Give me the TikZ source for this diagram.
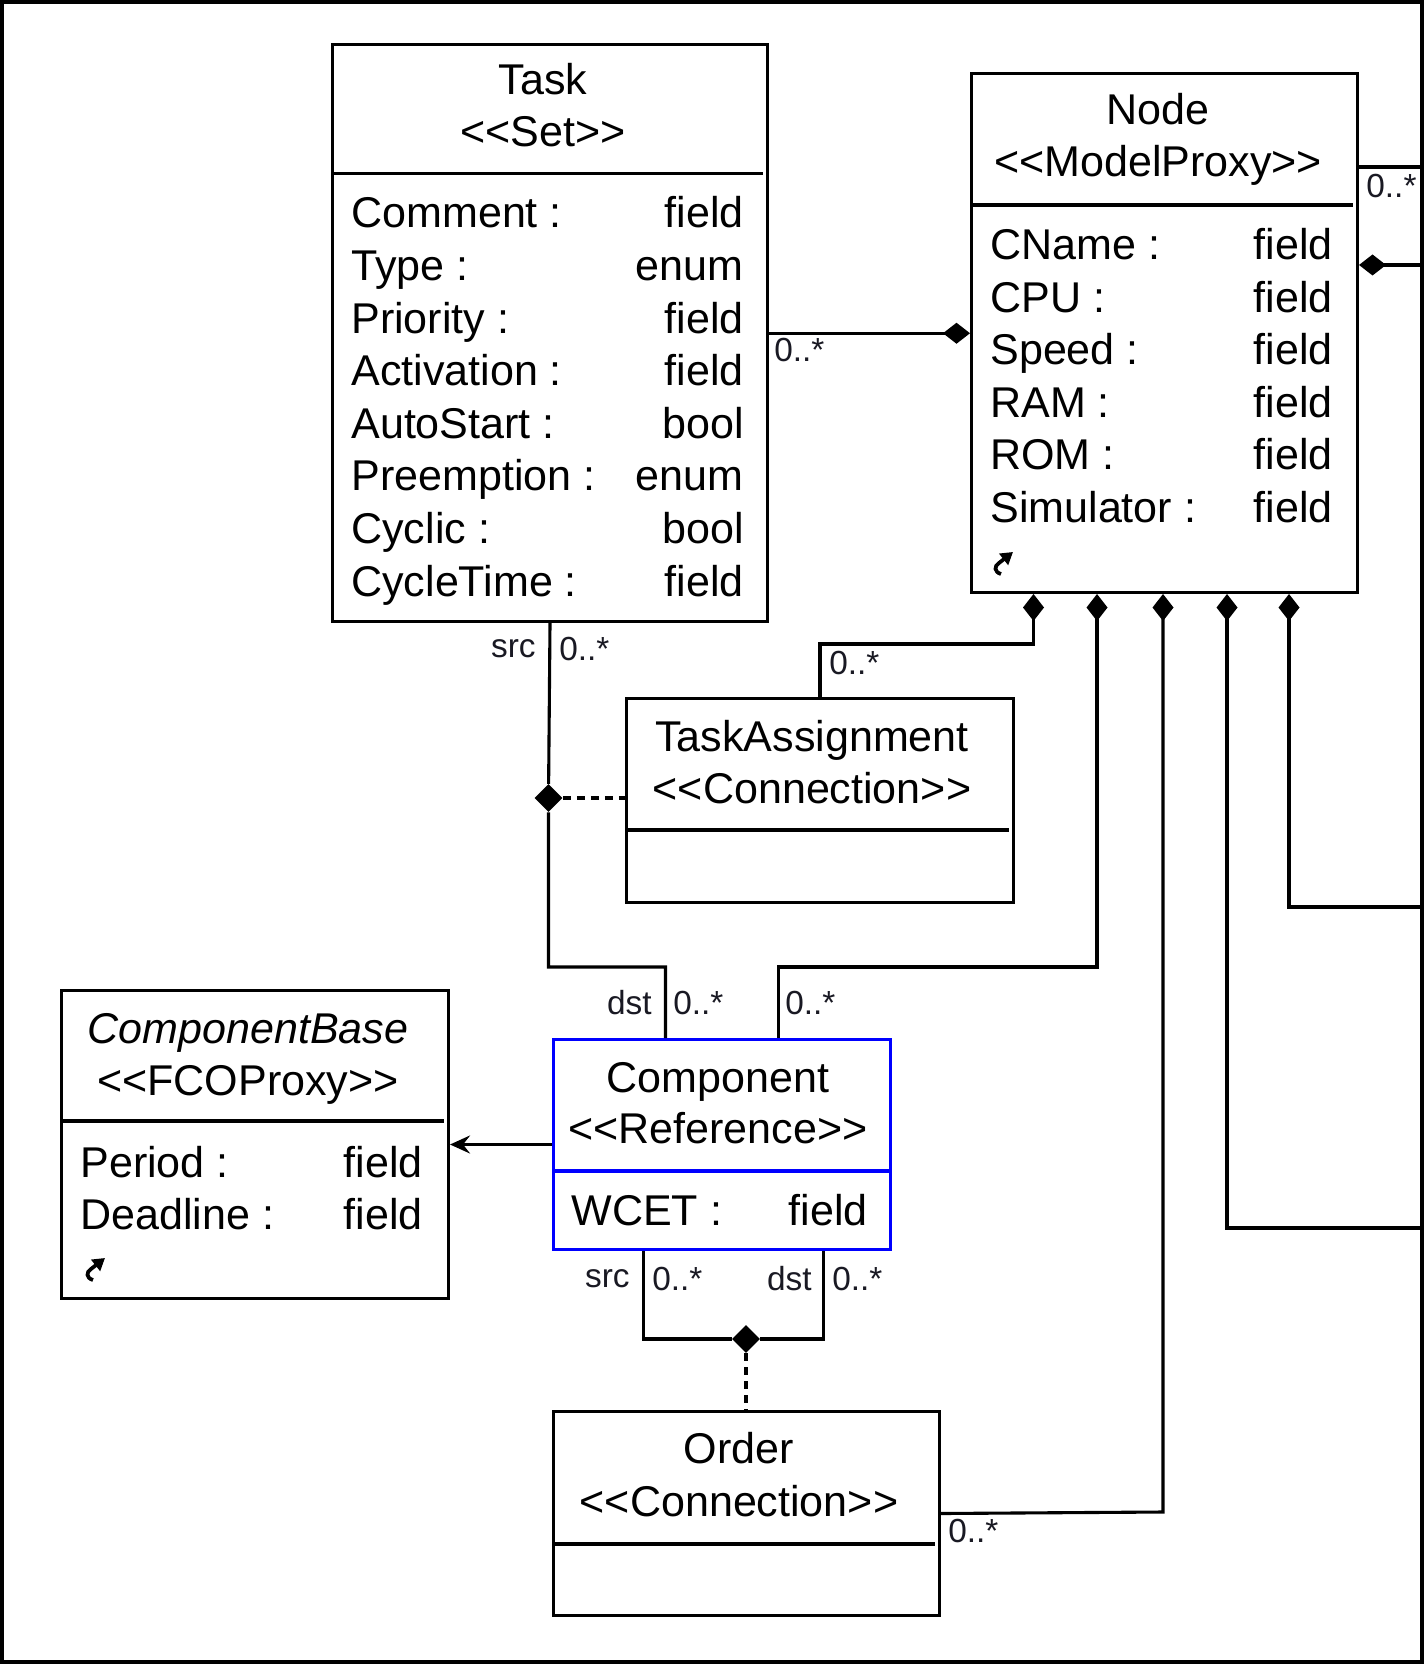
\documentclass[tikz,border=0pt]{standalone}
\usepackage{fontspec}
\newfontfamily\umlfont{Liberation Sans}
\usetikzlibrary{arrows.meta,positioning,shapes.geometric,calc}
\definecolor{ink}{RGB}{25,25,35}
\definecolor{refblue}{RGB}{0,0,255}
\tikzset{
  >={Stealth[length=4mm,width=3.6mm,inset=1.4mm]},
  cls/.style={draw=#1,line width=0.6mm,anchor=north west,inner sep=0pt},
  cls/.default=black,
  hd/.style={font=\umlfont\fontsize{24.5}{30}\selectfont,anchor=base,inner sep=0pt},
  attr/.style={font=\umlfont\fontsize{24.5}{30}\selectfont,inner sep=0pt},
  mult/.style={font=\umlfont\fontsize{19}{22}\selectfont,inner sep=0pt,text=ink},
  wire/.style={line width=0.62mm},
  owns/.style={wire,-{Diamond[length=5.4mm,width=4.2mm]}},
  gen/.style={wire,->},
  link/.style={wire,dash pattern=on 1.6mm off 1.2mm},
  junction/.style={diamond,fill=black,inner sep=0pt,minimum width=5.6mm,minimum height=5.6mm},
  % little shortcut arrow shown in proxy boxes
  pics/shortcut/.style={code={
    \draw[line width=0.75mm,-{Triangle[length=2.4mm,width=2.8mm]}] (-2,12) .. controls (-9,10) and (-9,4) .. (-4,1) -- (10,-10);
  }},
}

\begin{document}
\begin{tikzpicture}[x=0.2mm,y=-0.2mm]
  \useasboundingbox (0,0) rectangle (1425,1664);
  \draw[line width=0.7mm] (2,2) rectangle (1422,1662);

  % classes
  \node[cls,minimum width=87mm,minimum height=115.3mm] (task) at (331,43.5) {};
  \node[cls,minimum width=77.2mm,minimum height=103.8mm] (node) at (970,72) {};
  \node[cls,minimum width=77.4mm,minimum height=40.8mm] (ta) at (625,697) {};
  \node[cls=refblue,minimum width=67.4mm,minimum height=42mm] (component) at (552,1038) {};
  \node[cls,minimum width=77.4mm,minimum height=61.6mm] (base) at (60,989) {};
  \node[cls,minimum width=77.2mm,minimum height=40.8mm] (order) at (552,1410) {};

  \foreach \b/\d in {task/130,node/133,ta/133,base/132,order/134}
    \draw[wire] ($(\b.north west)+(0,\d)$) -- ($(\b.north east)+(-6,\d)$);
  \draw[wire,refblue] ($(component.north west)+(0,133)$) -- ($(component.north east)+(0,133)$);

  % headings
  \node[hd] (task-h1) at (543,95) {Task};
  \node[hd] (task-h2) at (543,147) {<<Set>>};
  \node[hd] (node-h1) at (1158,125) {Node};
  \node[hd] (node-h2) at (1158,177) {<<ModelProxy>>};
  \node[hd] (ta-h1) at (812,751) {TaskAssignment};
  \node[hd] (ta-h2) at (812,803) {<<Connection>>};
  \node[hd] (component-h1) at (718,1092) {Component};
  \node[hd] (component-h2) at (718,1143) {<<Reference>>};
  \node[hd] (base-h1) at (248,1043) {\itshape ComponentBase};
  \node[hd] (base-h2) at (248,1095) {<<FCOProxy>>};
  \node[hd] (order-h1) at (739,1463) {Order};
  \node[hd] (order-h2) at (739,1516) {<<Connection>>};

  % attributes
  \foreach \attname/\atttype [count=\i from 0] in {Comment/field,Type/enum,Priority/field,Activation/field,
      AutoStart/bool,Preemption/enum,Cyclic/bool,CycleTime/field}{
    \node[attr,anchor=base west] (task-n\i) at (351,{228+52.6*\i}) {\attname{} :};
    \node[attr,anchor=base east] (task-v\i) at (744,{228+52.6*\i}) {\atttype};
  }
  \foreach \attname [count=\i from 0] in {CName,CPU,Speed,RAM,ROM,Simulator}{
    \node[attr,anchor=base west] (node-n\i) at (990,{260+52.5*\i}) {\attname{} :};
    \node[attr,anchor=base east] (node-v\i) at (1333,{260+52.5*\i}) {field};
  }
  \foreach \attname [count=\i from 0] in {Period,Deadline}{
    \node[attr,anchor=base west] (base-n\i) at (80,{1177+52.5*\i}) {\attname{} :};
    \node[attr,anchor=base east] (base-v\i) at (423,{1177+52.5*\i}) {field};
  }
  \node[attr,anchor=base west] (component-n0) at (571,1225) {WCET :};
  \node[attr,anchor=base east] (component-v0) at (868,1225) {field};
  \pic (node-icon) at (1003,562) {shortcut};
  \pic (base-icon) at (95,1268) {shortcut};

  % connections
  \draw[owns] (task.east) -- (task.east -| node.west);
  \coordinate (r1) at (1422,167);
  \coordinate (r2) at (1422,265);
  \draw[wire] (r1 -| node.east) -- (r1);
  \draw[owns] (r2) -- (r2 -| node.east);

  \coordinate (b1) at (1033.5,644);
  \coordinate (b2) at (1097,967);
  \coordinate (b3) at (1163,1512);
  \coordinate (b4) at (1227,1228);
  \coordinate (b5) at (1289,907);
  \draw[owns] (ta.north) |- (b1) -- (b1 |- node.south);
  \draw[owns] ([xshift=11.3mm]component.north) |- (b2) -- (b2 |- node.south);
  \draw[owns] (order.east) -- (b3) -- (b3 |- node.south);
  \draw[owns] (b4 -| r1) -- (b4) -- (b4 |- node.south);
  \draw[owns] (b5 -| r1) -- (b5) -- (b5 |- node.south);

  \node[junction] (j1) at (548.5,798) {};
  \coordinate (k1) at (548.5,967);
  \draw[wire] (task.south) -- (j1) -- (k1) -| ([xshift=-11.3mm]component.north);
  \draw[link] (j1) -- (j1 -| ta.west);

  \node[junction] (j2) at (746,1339) {};
  \draw[wire] ([xshift=-15.7mm]component.south) |- (j2) -| ([xshift=20.3mm]component.south);
  \draw[link] (j2) -- (j2 |- order.north);

  \draw[gen] (component.west) -- (component.west -| base.east);

  % multiplicities and roles
  \node[mult,anchor=west] (m-tn) at (774,350) {0..*};
  \node[mult,anchor=west] (m-nr) at (1366,186) {0..*};
  \node[mult,anchor=west] (m-ta) at (829,663) {0..*};
  \node[mult,anchor=east] (r-src1) at (536,649) {src};
  \node[mult,anchor=west] (m-src1) at (559,649) {0..*};
  \node[mult,anchor=east] (r-dst1) at (652,1003) {dst};
  \node[mult,anchor=west] (m-dst1) at (673,1003) {0..*};
  \node[mult,anchor=west] (m-cn) at (785,1003) {0..*};
  \node[mult,anchor=east] (r-src2) at (630,1279) {src};
  \node[mult,anchor=west] (m-src2) at (652,1279) {0..*};
  \node[mult,anchor=east] (r-dst2) at (812,1279) {dst};
  \node[mult,anchor=west] (m-dst2) at (832,1279) {0..*};
  \node[mult,anchor=west] (m-or) at (948,1531) {0..*};
\end{tikzpicture}
\end{document}
